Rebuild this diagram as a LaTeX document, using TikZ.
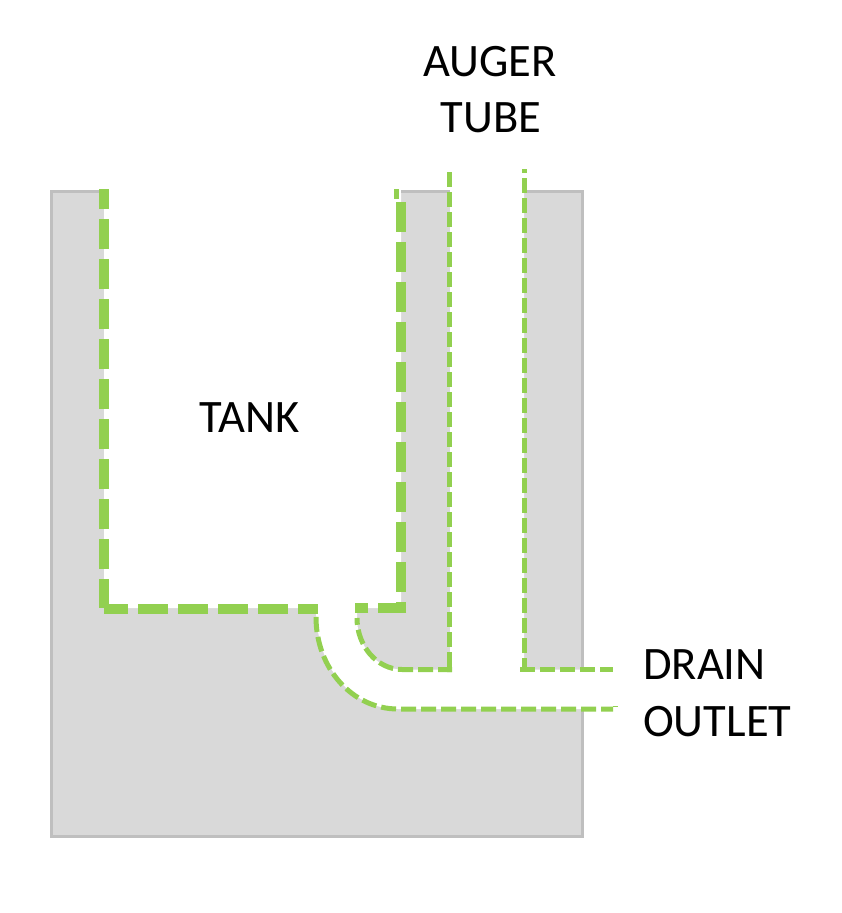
\documentclass[tikz,border=0pt]{standalone}
\usepackage{fontspec}
\setmainfont{Carlito}
\definecolor{wallgrey}{HTML}{D9D9D9}
\definecolor{edgegrey}{HTML}{BFBFBF}
\definecolor{linegreen}{HTML}{92D050}
\tikzset{
  thickgreen/.style={draw=linegreen,line width=10pt,dash pattern=on 30pt off 10pt},
  thingreen/.style={draw=linegreen,line width=5pt,dash pattern=on 15pt off 5pt},
  edgeline/.style={draw=edgegrey,line width=3pt,line join=miter},
  lbl/.style={font=\fontsize{46.5}{46.5}\selectfont,inner sep=0pt,text=black}
}
\begin{document}
\begin{tikzpicture}[x=1pt,y=-1pt]
\useasboundingbox (0,0) rectangle (841,913);
% solid block
\fill[wallgrey] (51,191) rectangle (582,836);
% tank, tube and drain channel cut out
\fill[white] (104,185) -- (104,608) -- (316,608)
  .. controls (316,668) and (352,709) .. (398,709)
  -- (590,709) -- (590,669.5) -- (524,669.5) -- (524,185) -- (450,185)
  -- (450,669.5) -- (402,669.5)
  .. controls (377,669.5) and (357,646) .. (357,618)
  -- (357,608) -- (401,608) -- (401,185) -- cycle;
% outer edges
\draw[edgeline] (104,191) -- (51,191) -- (51,836) -- (582,836) -- (582,709);
\draw[edgeline] (582,669.5) -- (582,191) -- (524,191);
\draw[edgeline] (401,191) -- (450,191);
% tank liner
\draw[thickgreen,dash phase=10pt] (104,189) -- (104,608);
\draw[thickgreen,dash phase=6pt] (104,608.5) -- (318,608.5);
\draw[thickgreen] (401,202) -- (401,608);
\draw[thickgreen,dash phase=2pt] (406,608) -- (355,608);
\draw[draw=linegreen,line width=5pt] (396.5,189) -- (396.5,199);
% auger tube and drain
\draw[thingreen] (449.5,172) -- (449.5,672);
\draw[thingreen,dash phase=1pt] (452,669.5) -- (402,669.5)
  .. controls (377,669.5) and (357,646) .. (357,618);
\draw[thingreen,dash phase=11pt] (524,169) -- (524,667);
\draw[thingreen] (520,669.5) -- (613,669.5);
\draw[thingreen] (316,617) .. controls (316,668) and (352,709) .. (398,709) -- (613,709);
\draw[draw=linegreen,line width=.8pt] (613,706) -- (618,706);
% labels
\node[lbl] (auger) at (490,62) {AUGER};
\node[lbl] (tube) at (491,118) {TUBE};
\node[lbl] (tank) at (249.5,418) {TANK};
\node[lbl,anchor=west] (drain) at (643,665) {DRAIN};
\node[lbl,anchor=west] (outlet) at (643,722) {OUTLET};
\end{tikzpicture}
\end{document}
